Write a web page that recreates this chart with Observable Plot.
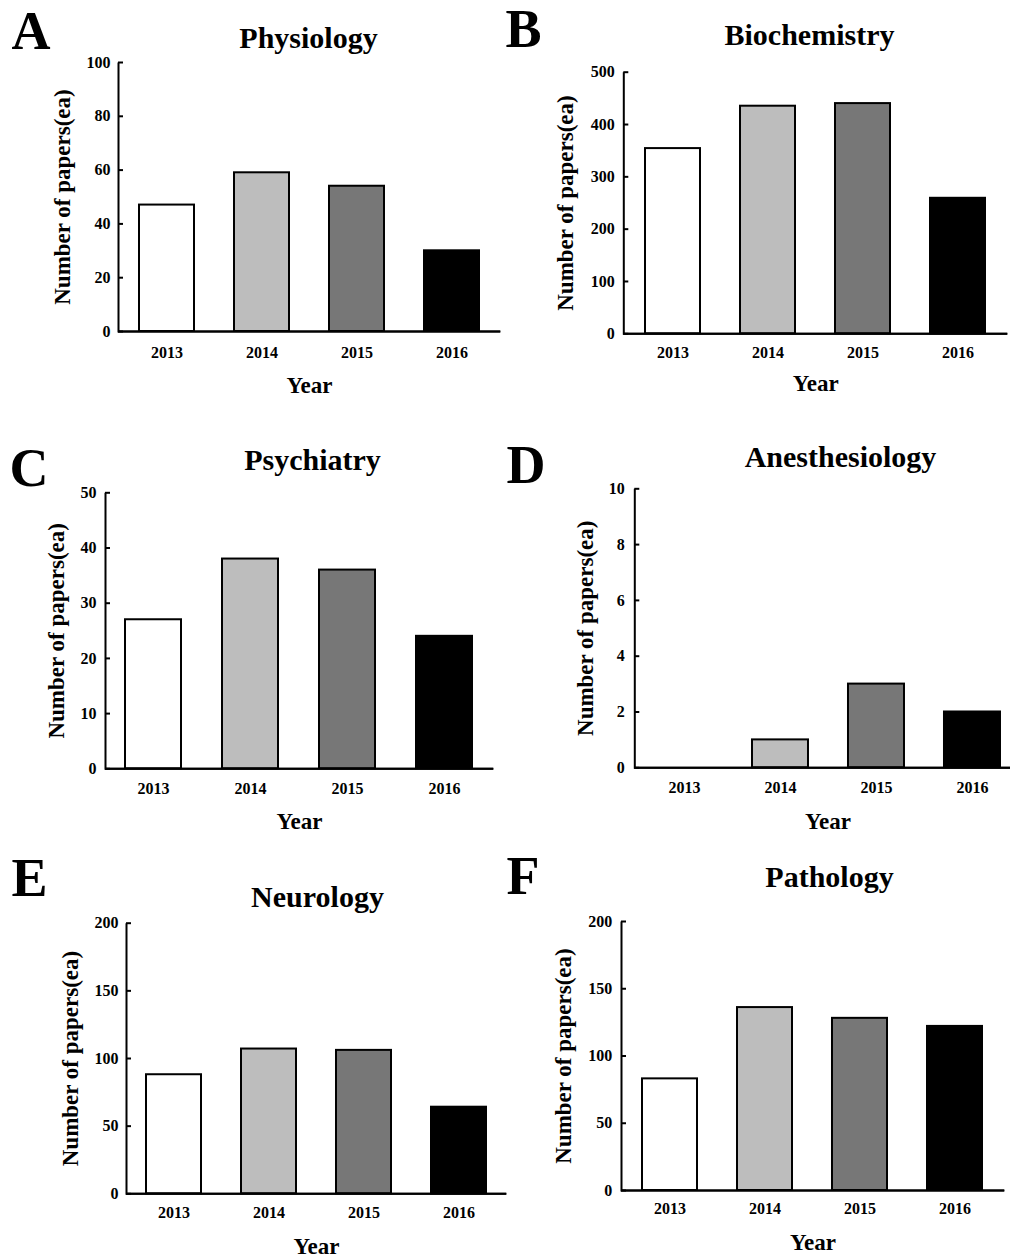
<!DOCTYPE html>
<html>
<head>
<meta charset="utf-8">
<script src="https://cdn.jsdelivr.net/npm/d3@7"></script>
<script src="https://cdn.jsdelivr.net/npm/@observablehq/plot@0.6"></script>
<style>
  html, body { margin: 0; padding: 0; background: #ffffff; }
  #fig { position: relative; width: 1010px; height: 1259px; overflow: hidden; background: #ffffff; }
  #fig > div { position: absolute; }
</style>
</head>
<body>
<div id="fig"></div>
<script>
// ---- data ----
const years = ["2013", "2014", "2015", "2016"];
const physiology = [47, 59, 54, 30];
const biochemistry = [354, 435, 440, 259];
const psychiatry = [27, 38, 36, 24];
const anesthesiology = [0, 1, 3, 2];
const neurology = [88, 107, 106, 64];
const pathology = [83, 136, 128, 122];

const ticksA = [0, 20, 40, 60, 80, 100];
const ticksB = [0, 100, 200, 300, 400, 500];
const ticksC = [0, 10, 20, 30, 40, 50];
const ticksD = [0, 2, 4, 6, 8, 10];
const ticksE = [0, 50, 100, 150, 200];
const ticksF = [0, 50, 100, 150, 200];

const letters = ["A", "B", "C", "D", "E", "F"];
const titles = ["Physiology", "Biochemistry", "Psychiatry", "Anesthesiology", "Neurology", "Pathology"];
const xLabel = "Year";
const yLabel = "Number of papers(ea)";

const barFills = ["#ffffff", "#bdbdbd", "#777777", "#000000"];

const panels = [
  {letter: letters[0], title: titles[0], values: physiology, ticks: ticksA},
  {letter: letters[1], title: titles[1], values: biochemistry, ticks: ticksB},
  {letter: letters[2], title: titles[2], values: psychiatry, ticks: ticksC},
  {letter: letters[3], title: titles[3], values: anesthesiology, ticks: ticksD},
  {letter: letters[4], title: titles[4], values: neurology, ticks: ticksE},
  {letter: letters[5], title: titles[5], values: pathology, ticks: ticksF}
];

// ---- layout (page pixel geometry) ----
const layout = [
  {ox: 0,   oy: 0,   h: 430, left: 118,   top: 62,    base: 331,    end: 500,    tickGap: 8,   tickOff: 26,   yearOff: 61,   ylabOff: 65,   titleBase: 47,  titleX: 308, letterX: 11,  letterBase: 48},
  {ox: 500, oy: 0,   h: 430, left: 623.3, top: 71.7,  base: 333.3,  end: 1007,   tickGap: 9,   tickOff: 24,   yearOff: 57,   ylabOff: 67,   titleBase: 45,  titleX: 809, letterX: 505, letterBase: 47},
  {ox: 0,   oy: 430, h: 420, left: 105,   top: 492.3, base: 768.3,  end: 493,    tickGap: 9,   tickOff: 25,   yearOff: 60,   ylabOff: 57.5, titleBase: 469, titleX: 312, letterX: 9,   letterBase: 485},
  {ox: 500, oy: 430, h: 420, left: 634.3, top: 488.3, base: 767.3,  end: 1020.7, tickGap: 10,  tickOff: 25,   yearOff: 61,   ylabOff: 58,   titleBase: 467, titleX: 840, letterX: 506, letterBase: 483},
  {ox: 0,   oy: 850, h: 409, left: 126,   top: 922.7, base: 1193.3, end: 506,    tickGap: 8,   tickOff: 24,   yearOff: 60.5, ylabOff: 65,   titleBase: 906, titleX: 317, letterX: 11,  letterBase: 895},
  {ox: 500, oy: 850, h: 409, left: 621,   top: 921,   base: 1190,   end: 1004,   tickGap: 9.3, tickOff: 23.5, yearOff: 59,   ylabOff: 67,   titleBase: 886, titleX: 829, letterX: 506, letterBase: 893}
];

const FONT = "'Liberation Serif', 'Times New Roman', Times, serif";
const fig = document.getElementById("fig");

panels.forEach((p, i) => {
  const L = layout[i];
  const rows = years.map((year, j) => ({year, value: p.values[j]}));
  const width = L.end - L.ox;
  const marginLeft = L.left - L.ox;
  const marginTop = L.top - L.oy;
  const marginBottom = L.h - (L.base - L.oy);
  const frameCx = (L.left + L.end) / 2;
  const fw = L.end - L.left;
  const fh = L.base - L.top;
  const yTickSize = -5;

  const chart = Plot.plot({
    width,
    height: L.h,
    marginLeft,
    marginRight: 0,
    marginTop,
    marginBottom,
    style: {fontFamily: FONT, fontWeight: "bold", color: "#000", background: "transparent", maxWidth: "none", overflow: "visible"},
    x: {domain: years, paddingInner: 0.42, paddingOuter: 0.21, align: 0.5},
    y: {domain: [0, p.ticks[p.ticks.length - 1]]},
    color: {domain: years, range: barFills},
    marks: [
      Plot.barY(rows, {x: "year", y: "value", fill: "year", stroke: "#000", strokeWidth: 2}),
      // left + bottom edges of the frame = the two axis lines
      Plot.frame({stroke: "#000", strokeWidth: 2, fill: "none", strokeDasharray: `0 ${fw + fh} ${fw + fh}`}),
      Plot.ruleY([0], {stroke: "#000", strokeWidth: 2}),
      Plot.axisY({ticks: p.ticks, tickSize: yTickSize, tickPadding: L.tickGap - yTickSize, strokeWidth: 2, fontSize: 16, fill: "#000", label: null}),
      Plot.axisX({tickSize: 0, tickPadding: L.tickOff - 0.71 * 16, fontSize: 16, fill: "#000", label: null}),
      Plot.text([yLabel], {text: d => d, frameAnchor: "left", textAnchor: "middle", rotate: -90, lineAnchor: "top", dx: -L.ylabOff, fontSize: 23, fontWeight: "bold", fill: "#000"}),
      Plot.text([xLabel], {text: d => d, frameAnchor: "bottom", textAnchor: "middle", lineAnchor: "bottom", dy: L.yearOff, fontSize: 23, fontWeight: "bold", fill: "#000"}),
      Plot.text([p.title], {text: d => d, frameAnchor: "top", textAnchor: "middle", lineAnchor: "bottom", dx: L.titleX - frameCx, dy: L.titleBase - L.top, fontSize: 30, fontWeight: "bold", fill: "#000"}),
      Plot.text([p.letter], {text: d => d, frameAnchor: "top-left", textAnchor: "start", lineAnchor: "bottom", dx: L.letterX - L.left, dy: L.letterBase - L.top, fontSize: 54, fontWeight: "bold", fill: "#000"})
    ]
  });

  const holder = document.createElement("div");
  holder.style.left = L.ox + "px";
  holder.style.top = L.oy + "px";
  holder.appendChild(chart);
  fig.appendChild(holder);
});
</script>
</body>
</html>
